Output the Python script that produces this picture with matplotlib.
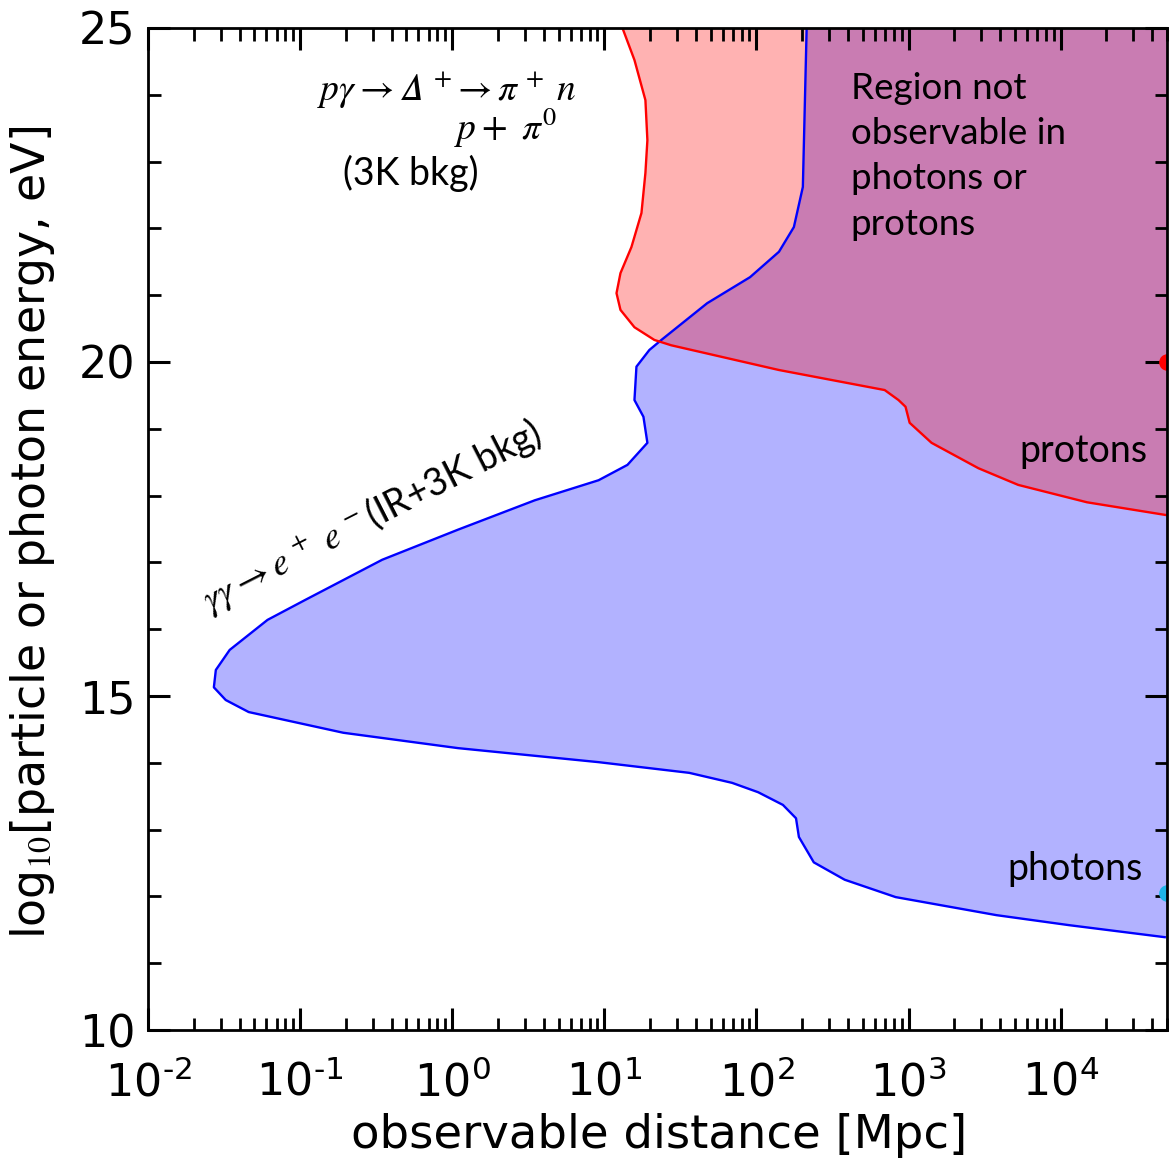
import numpy as np
import matplotlib
matplotlib.use("Agg")
import matplotlib.pyplot as plt
from matplotlib.ticker import MultipleLocator, LogLocator, FuncFormatter

plt.rcParams['mathtext.fontset'] = 'stix'
plt.rcParams['axes.unicode_minus'] = False

# photon horizon (gamma gamma -> e+ e-), log10 distance [Mpc] vs log10 energy
blue_energy = [25.0, 22.62, 22.02, 21.65, 21.27, 20.88, 20.33, 20.18, 19.93, 19.43,
               19.18, 18.79, 18.46, 18.23, 17.93, 17.49, 17.04, 16.44, 16.14, 15.69,
               15.39, 15.13, 14.94, 14.76, 14.45, 14.22, 14.01, 13.85, 13.70, 13.56,
               13.37, 13.17, 12.89, 12.51, 12.25, 11.99, 11.72, 11.57, 11.39]
blue_logd = [2.33, 2.305, 2.246, 2.148, 1.958, 1.676, 1.375, 1.296, 1.211, 1.198,
             1.257, 1.283, 1.152, 0.962, 0.543, 0.038, -0.46, -0.965, -1.214, -1.463,
             -1.554, -1.567, -1.489, -1.338, -0.716, 0.038, 0.962, 1.558, 1.840, 2.011,
             2.174, 2.26, 2.279, 2.377, 2.58, 2.915, 3.577, 4.055, 4.684]

# proton horizon (p gamma -> Delta+)
red_energy = [25.0, 24.52, 23.92, 23.32, 22.83, 22.23, 21.72, 21.33, 21.03, 20.78,
              20.52, 20.33, 20.25, 19.88, 19.58, 19.43, 19.33, 19.09, 18.79, 18.41,
              18.16, 17.90, 17.71]
red_logd = [1.119, 1.198, 1.27, 1.283, 1.27, 1.244, 1.178, 1.106, 1.08, 1.106,
            1.198, 1.329, 1.44, 2.148, 2.843, 2.934, 2.98, 3.007, 3.151, 3.459,
            3.721, 4.173, 4.69]

edge_marks_energy = [20.0, 12.05]
edge_marks_color = ['red', '#1eb4e6']

xmin, xmax = 1e-2, 5e4


def pow10_label(v, pos):
    e = int(round(np.log10(v)))
    s = str(e).replace('-', '\u2010')
    return r'$\mathdefault{10^{%s}}$' % s


fig = plt.figure(figsize=(11.69, 11.61), dpi=100)
ax = fig.add_axes([0.1266, 0.1128, 0.8717, 0.8631])

bd = 10 ** np.array(blue_logd)
rd = 10 ** np.array(red_logd)

ax.fill_betweenx(blue_energy, bd, 1e6, color='blue', alpha=0.3, lw=0)
ax.fill_betweenx(red_energy, rd, 1e6, color='red', alpha=0.3, lw=0)
ax.plot(bd, blue_energy, color='blue', lw=1.7)
ax.plot(rd, red_energy, color='red', lw=1.7)

for e, c in zip(edge_marks_energy, edge_marks_color):
    ax.plot([xmax], [e], 'o', color=c, ms=11, clip_on=True)

ax.set_xscale('log')
ax.set_xlim(xmin, xmax)
ax.set_ylim(10, 25)
ax.yaxis.set_major_locator(MultipleLocator(5))
ax.yaxis.set_minor_locator(MultipleLocator(1))
ax.xaxis.set_major_locator(LogLocator(base=10, numticks=20))
ax.xaxis.set_minor_locator(LogLocator(base=10, subs=np.arange(2, 10), numticks=20))
ax.xaxis.set_major_formatter(FuncFormatter(pow10_label))

ax.tick_params(which='both', direction='in', top=True, right=True, labelsize=32)
ax.tick_params(axis='x', which='major', pad=22)
ax.tick_params(axis='y', which='major', pad=9)
ax.tick_params(which='major', length=16, width=2.2)
ax.tick_params(which='minor', length=9, width=2.0)
for s in ax.spines.values():
    s.set_linewidth(2.0)

ax.set_xlabel('observable distance [Mpc]', fontsize=33.5)
ax.set_ylabel(r'log$_{10}$[particle or photon energy, eV]', fontsize=33)
ax.xaxis.set_label_coords(0.502, -0.083)
ax.yaxis.set_label_coords(-0.089, 0.497)

afont = 'Lato'
ax.text(0.13, 23.92,
        r'$p\gamma \rightarrow 𝛥^{\,+}\!\rightarrow \pi^{\,+}\; n$',
        fontsize=27, ha='left', va='baseline')
ax.text(1.03, 23.32, r'$p +\ \pi^0$', fontsize=27, ha='left', va='baseline')
ax.text(0.19, 22.65, '(3K bkg)', family=afont, fontsize=27, ha='left', va='baseline')
ax.text(0.0255, 16.26, r'$\gamma\gamma \rightarrow e^{\,+}\ e^{\,-}$(IR+3K bkg)',
        family=afont, fontsize=27, rotation=27, rotation_mode='anchor',
        ha='left', va='baseline')
ax.text(417, 24.34, 'Region not\nobservable in\nphotons or\nprotons', family=afont,
        fontsize=26.5, ha='left', va='top', linespacing=1.45)
ax.text(5330, 18.5, 'protons', family=afont, fontsize=27, ha='left', va='baseline')
ax.text(4460, 12.25, 'photons', family=afont, fontsize=27, ha='left', va='baseline')

fig.savefig('out.png', dpi=100)
